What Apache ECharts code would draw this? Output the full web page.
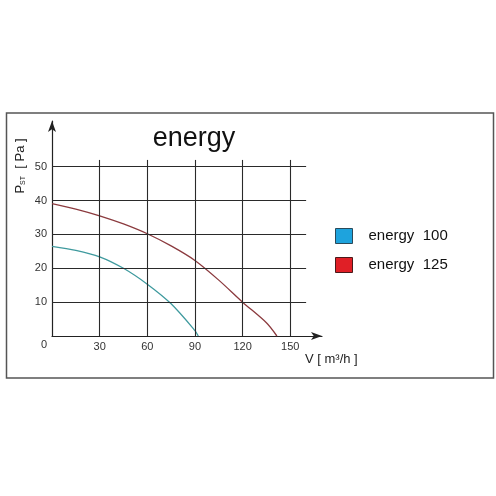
<!DOCTYPE html>
<html>
<head>
<meta charset="utf-8">
<script src="https://cdn.jsdelivr.net/npm/echarts@6/dist/echarts.min.js"></script>
<style>
html,body{margin:0;padding:0;background:#fff;}
#c{width:496px;height:496px;}
</style>
</head>
<body>
<div id="c"></div>
<script>
// ---- data ----
const chartTitle = 'energy';
const seriesNames = ['energy  100', 'energy  125'];
const flowV100 = [0, 15, 30, 45, 60, 75, 90, 92.1];
const pres100  = [26.5, 25.3, 23.4, 20.0, 15.3, 9.5, 1.6, 0];
const flowV125 = [0, 15, 30, 45, 60, 75, 90, 105, 120, 135, 141.6];
const pres125  = [39.1, 37.5, 35.5, 33.1, 30.2, 26.6, 22.3, 16.5, 10.0, 3.9, 0];
const xTicks = [30, 60, 90, 120, 150];
const yTicks = [10, 20, 30, 40, 50];
const gridXEnd = 160;   // horizontal grid lines reach this V
const gridYEnd = 52;    // vertical grid lines reach this P
const xAxisName = 'V [ m³/h ]';

// ---- build ----
const pairs = (xs, ys) => xs.map((x, i) => [x, ys[i]]);
const gridLines = [];
xTicks.forEach(v => gridLines.push([{coord: [v, 0]}, {coord: [v, gridYEnd]}]));
yTicks.forEach(v => gridLines.push([{coord: [0, v]}, {coord: [gridXEnd, v]}]));

const FONT = '"Liberation Sans", Arial, sans-serif';
const chart = echarts.init(document.getElementById('c'), null, {renderer: 'canvas'});
chart.setOption({
  animation: false,
  backgroundColor: '#fff',
  title: {
    text: chartTitle, left: 189, top: 120, textAlign: 'center',
    textStyle: {fontFamily: FONT, fontSize: 27, fontWeight: 'normal', color: '#111'}
  },
  legend: {
    orient: 'vertical', left: 335, top: 228, padding: 0, itemWidth: 17, itemHeight: 15, itemGap: 13,
    icon: 'rect',
    textStyle: {fontFamily: FONT, fontSize: 15, color: '#111', padding: [0, 0, 0, 11]},
    data: [
      {name: seriesNames[0], itemStyle: {color: '#1ea3dd', borderColor: '#2a4a5a', borderWidth: 1}},
      {name: seriesNames[1], itemStyle: {color: '#e01f26', borderColor: '#4a1a1a', borderWidth: 1}}
    ]
  },
  grid: {left: 52, top: 121, width: 270, height: 215, containLabel: false},
  xAxis: {
    type: 'value', min: 0, max: 170, interval: 30,
    axisLine: {show: true, symbol: ['none', 'arrow'], symbolSize: [6, 11],
      lineStyle: {color: '#222', width: 1.2}},
    axisTick: {show: false},
    splitLine: {show: false},
    axisLabel: {
      margin: 5, fontFamily: FONT, fontSize: 11, color: '#333',
      showMaxLabel: false,
      formatter: v => (v > 0 && v <= 150) ? String(v) : ''
    }
  },
  yAxis: {
    type: 'value', min: 0, max: 63.5, interval: 10,
    axisLine: {show: true, symbol: ['none', 'arrow'], symbolSize: [6, 11],
      lineStyle: {color: '#222', width: 1.2}},
    axisTick: {show: false},
    splitLine: {show: false},
    axisLabel: {
      margin: 5, fontFamily: FONT, fontSize: 11, color: '#333',
      showMaxLabel: false,
      formatter: v => v === 0 ? '{z|0}' : (v <= 50 ? String(v) : ''),
      rich: {z: {fontFamily: FONT, fontSize: 11, color: '#333', padding: [17, 0, 0, 0]}}
    }
  },
  graphic: [
    {type: 'rect', shape: {x: 6.5, y: 113, width: 487, height: 265},
      style: {fill: 'none', stroke: '#555', lineWidth: 1.5}, silent: true},
    {type: 'text', x: 20, y: 166, rotation: Math.PI / 2,
      style: {text: '{p|P}{s|ST}{p|  [ Pa ]}', align: 'center', verticalAlign: 'middle',
        rich: {p: {fontFamily: FONT, fontSize: 13, fill: '#222'},
               s: {fontFamily: FONT, fontSize: 7, fill: '#222', padding: [7, 0, 0, 0]}}}},
    {type: 'text', x: 305, y: 359,
      style: {text: xAxisName, fontFamily: FONT, fontSize: 13, fill: '#222', verticalAlign: 'middle'}}
  ],
  series: [
    {
      name: seriesNames[0], type: 'line', smooth: 0.3, showSymbol: false,
      data: pairs(flowV100, pres100),
      itemStyle: {color: '#1ea3dd'},
      lineStyle: {color: '#3f9a9e', width: 1.3},
      z: 3
    },
    {
      name: seriesNames[1], type: 'line', smooth: 0.3, showSymbol: false,
      data: pairs(flowV125, pres125),
      itemStyle: {color: '#e01f26'},
      lineStyle: {color: '#8b3a3e', width: 1.3},
      z: 3,
      markLine: {
        silent: true, symbol: 'none', animation: false,
        label: {show: false},
        lineStyle: {color: '#2a2a2a', width: 1.1, type: 'solid'},
        emphasis: {disabled: true},
        data: gridLines
      }
    }
  ]
});
</script>
</body>
</html>
